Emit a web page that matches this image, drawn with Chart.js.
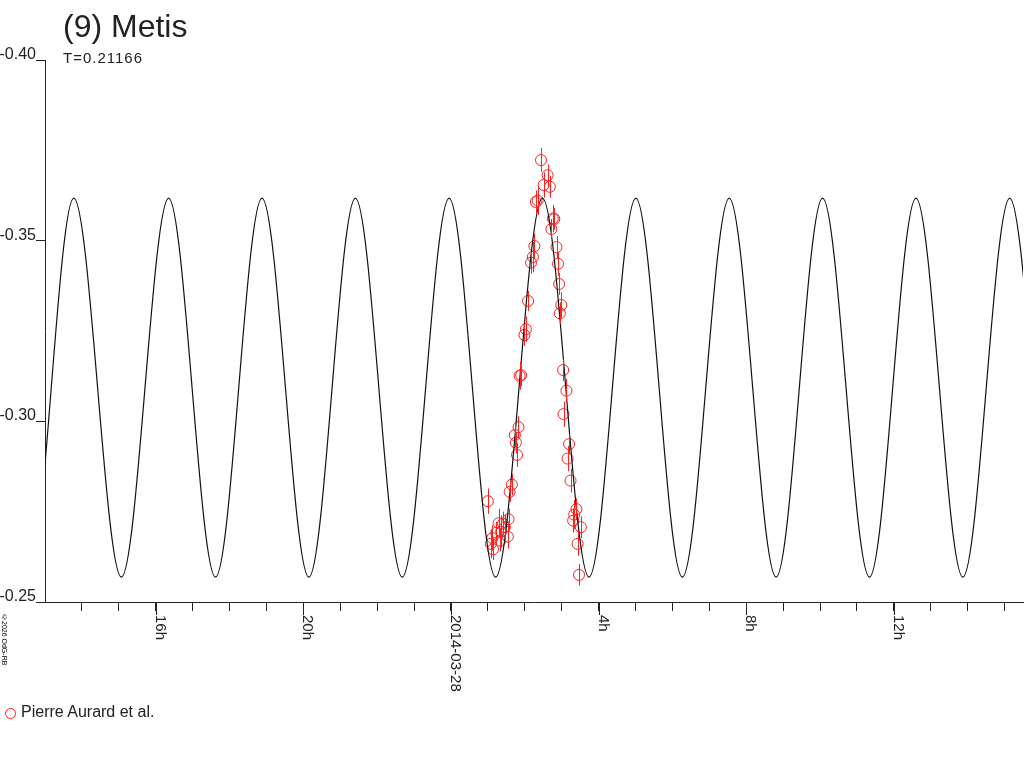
<!DOCTYPE html>
<html lang="fr">
<head>
  <meta charset="UTF-8" />
  <title>(9) Metis</title>
  <script src="https://cdn.jsdelivr.net/npm/chart.js"></script>
  <style>
    body {
      margin: 0;
      padding: 0;
      background: #fff;
      color: #222;
      font-family: 'Liberation Sans', Arial, sans-serif;
      width: 1024px;
      height: 768px;
      position: relative;
      overflow: hidden;
    }
    #chart { position: absolute; left: 0; top: 0; }
    .txt { position: absolute; white-space: nowrap; }
    #title { left: 63px; top: 10px; font-size: 32px; line-height: 32px; }
    #period { left: 63px; top: 50px; font-size: 15px; line-height: 15px; letter-spacing: 1px; }
    #legend { left: 21px; top: 704px; font-size: 16px; line-height: 16px; }
    #legendMark {
      position: absolute; left: 5px; top: 708px;
      width: 9px; height: 9px; border: 1px solid #ff2020; border-radius: 50%;
    }
    #copy {
      left: 1px; top: 614px; font-size: 7px; line-height: 7px;
      writing-mode: vertical-rl; color: #000;
    }
  </style>
</head>
<body>
  <canvas id="chart" width="1024" height="768"></canvas>
  <div class="txt" id="title">(9) Metis</div>
  <div class="txt" id="period">T=0.21166</div>
  <div id="legendMark"></div>
  <div class="txt" id="legend">Pierre Aurard et al.</div>
  <div class="txt" id="copy">©2026 OdG-RB</div>

  <script>
    // hours relative to 2014-03-28 00:00
    const hourTicks = [-10, -9, -8, -7, -6, -5, -4, -3, -2, -1, 0, 1, 2, 3, 4, 5, 6, 7, 8, 9, 10, 11, 12, 13, 14, 15];
    const hourLabels = { '-8': '16h', '-4': '20h', '0': '2014-03-28', '4': '4h', '8': '8h', '12': '12h' };
    const magTicks = [-0.40, -0.35, -0.30, -0.25];
    const magLabels = ['-0.40', '-0.35', '-0.30', '-0.25'];

    // model light curve, read at its extremes
    const modelHour = [-12.70, -11.44, -10.22, -8.93, -7.65, -6.38, -5.12, -3.85, -2.59, -1.32, -0.05, 1.21, 2.48, 3.74, 5.01, 6.27, 7.54, 8.81, 10.07, 11.34, 12.60, 13.87, 15.14, 16.41, 17.67];
    const modelMag = [-0.3618, -0.2569, -0.3618, -0.2569, -0.3618, -0.2569, -0.3618, -0.2569, -0.3618, -0.2569, -0.3618, -0.2569, -0.3618, -0.2569, -0.3618, -0.2569, -0.3618, -0.2569, -0.3618, -0.2569, -0.3618, -0.2569, -0.3618, -0.2569, -0.3618];

    // observations (Pierre Aurard et al.)
    const obsHour = [2.44, 2.62, 2.51, 2.68, 2.35, 2.30, 2.76, 2.80, 2.72, 2.26, 2.86, 2.22, 2.17, 2.90, 2.93, 2.09, 2.99, 2.95, 2.03, 1.99, 1.90, 1.86, 3.04, 3.13, 3.05, 1.83, 1.73, 1.76, 3.20, 1.79, 3.16, 3.24, 1.65, 1.59, 1.00, 3.40, 3.34, 1.56, 3.31, 1.29, 3.52, 1.46, 1.36, 1.23, 1.54, 1.12, 1.34, 3.43, 1.08, 1.14, 3.47, 1.41];
    const obsMag = [-0.3723, -0.3681, -0.3654, -0.3649, -0.3611, -0.3607, -0.3561, -0.3560, -0.3532, -0.3485, -0.3482, -0.3455, -0.3439, -0.3436, -0.3380, -0.3333, -0.3322, -0.3299, -0.3255, -0.3239, -0.3128, -0.3126, -0.3142, -0.3085, -0.3020, -0.2984, -0.2962, -0.2941, -0.2937, -0.2907, -0.2897, -0.2836, -0.2825, -0.2805, -0.2779, -0.2757, -0.2742, -0.2729, -0.2725, -0.2718, -0.2707, -0.2707, -0.2695, -0.2692, -0.2681, -0.2677, -0.2670, -0.2661, -0.2661, -0.2646, -0.2575, -0.2717];
    const obsErr = [0.0033, 0.0030, 0.0035, 0.0030, 0.0040, 0.0032, 0.0038, 0.0030, 0.0028, 0.0035, 0.0030, 0.0042, 0.0030, 0.0033, 0.0030, 0.0028, 0.0035, 0.0030, 0.0035, 0.0030, 0.0030, 0.0038, 0.0030, 0.0032, 0.0035, 0.0030, 0.0035, 0.0030, 0.0028, 0.0033, 0.0035, 0.0033, 0.0030, 0.0028, 0.0035, 0.0030, 0.0040, 0.0030, 0.0033, 0.0040, 0.0030, 0.0035, 0.0045, 0.0030, 0.0033, 0.0035, 0.0030, 0.0033, 0.0040, 0.0030, 0.0030, 0.0033];

    const RED = '#ff2020';
    const FONT = "'Liberation Sans', Arial, sans-serif";

    // vertical error bars + rotated axis labels
    const axisText = {
      id: 'axisText',
      afterDatasetsDraw(chart) {
        const { ctx, scales: { x, y } } = chart;
        ctx.save();
        ctx.strokeStyle = RED;
        ctx.lineWidth = 1;
        obsHour.forEach((h, i) => {
          const px = Math.round(x.getPixelForValue(h)) + 0.5;
          ctx.beginPath();
          ctx.moveTo(px, y.getPixelForValue(obsMag[i] - obsErr[i]));
          ctx.lineTo(px, y.getPixelForValue(obsMag[i] + obsErr[i]));
          ctx.stroke();
        });
        ctx.restore();
      },
      afterDraw(chart) {
        const { ctx, scales: { x, y } } = chart;
        ctx.save();
        ctx.fillStyle = '#222';
        ctx.font = '16px ' + FONT;
        ctx.textAlign = 'right';
        ctx.textBaseline = 'alphabetic';
        magTicks.forEach((v, i) => {
          ctx.fillText(magLabels[i], 36, y.getPixelForValue(v) - 1);
        });
        // labelled hour ticks are a little longer
        ctx.strokeStyle = '#222';
        ctx.lineWidth = 1;
        Object.keys(hourLabels).forEach(k => {
          const px = Math.round(x.getPixelForValue(Number(k))) + 0.5;
          ctx.beginPath();
          ctx.moveTo(px, x.top);
          ctx.lineTo(px, x.top + 13);
          ctx.stroke();
        });
        ctx.font = '15px ' + FONT;
        ctx.textAlign = 'left';
        Object.keys(hourLabels).forEach(k => {
          const px = x.getPixelForValue(Number(k));
          ctx.save();
          ctx.translate(px, 615);
          ctx.rotate(Math.PI / 2);
          ctx.fillText(hourLabels[k], 0, 0);
          ctx.restore();
        });
        ctx.restore();
      }
    };

    const ctx = document.getElementById('chart').getContext('2d');
    new Chart(ctx, {
      type: 'scatter',
      data: {
        datasets: [{
          label: 'model',
          data: modelHour.map((h, i) => ({ x: h, y: modelMag[i] })),
          showLine: true,
          borderColor: '#111',
          borderWidth: 1.2,
          pointRadius: 0,
          cubicInterpolationMode: 'monotone'
        }, {
          label: 'Pierre Aurard et al.',
          data: obsHour.map((h, i) => ({ x: h, y: obsMag[i] })),
          borderColor: RED,
          backgroundColor: 'rgba(0,0,0,0)',
          borderWidth: 1,
          pointRadius: 5.5
        }]
      },
      options: {
        responsive: false,
        animation: false,
        devicePixelRatio: 1,
        layout: { autoPadding: false, padding: { top: 60, right: 1, left: 0, bottom: 0 } },
        plugins: { legend: { display: false }, tooltip: { enabled: false } },
        scales: {
          x: {
            type: 'linear',
            min: -11,
            max: 15.5,
            afterBuildTicks: s => { s.ticks = hourTicks.map(v => ({ value: v })); },
            afterFit: s => { s.height = 166; },
            ticks: { display: false },
            grid: { drawOnChartArea: false, drawTicks: true, tickLength: 9, color: '#222' },
            border: { color: '#222', width: 1 }
          },
          y: {
            type: 'linear',
            reverse: true,
            min: -0.40,
            max: -0.25,
            afterBuildTicks: s => { s.ticks = magTicks.map(v => ({ value: v })); },
            afterFit: s => { s.width = 45; },
            ticks: { display: false },
            grid: { drawOnChartArea: false, drawTicks: true, tickLength: 9, color: '#222' },
            border: { color: '#222', width: 1 }
          }
        }
      },
      plugins: [axisText]
    });
  </script>
</body>
</html>
